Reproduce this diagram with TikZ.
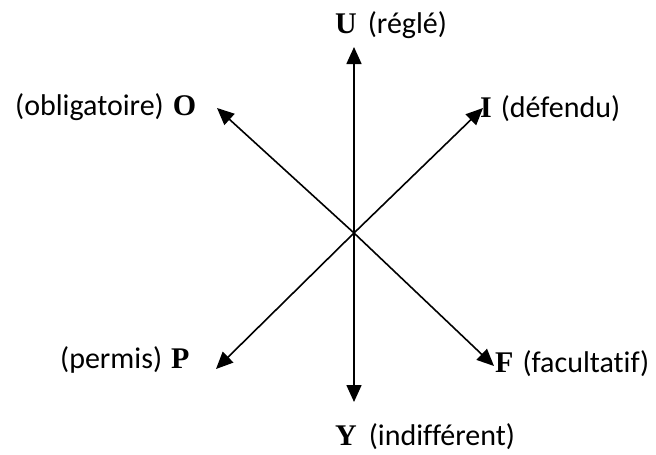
\documentclass[tikz,border=0pt]{standalone}
\usepackage{fontspec}
\setmainfont{Carlito}[Ligatures=CommonOff]
\newfontfamily\lettre{Liberation Serif}
\usetikzlibrary{arrows.meta}
\begin{document}
\begin{tikzpicture}[x=1pt,y=-1pt,
  axe/.style={line width=1.6pt,-{Triangle[length=17pt,width=15pt]}},
  lab/.style={anchor=base west,inner sep=0pt,font=\fontsize{30}{34}\selectfont}]
\useasboundingbox (0,0) rectangle (656,455);
\coordinate (c) at (354,233);
\coordinate (tU) at (354,47);
\coordinate (tY) at (354,402);
\coordinate (tO) at (217,108);
\coordinate (tI) at (483,108);
\coordinate (tP) at (216,369);
\coordinate (tF) at (494,366);
\draw[axe] (c) -- (tU);
\draw[axe] (c) -- (tY);
\draw[axe] (c) -- (tO);
\draw[axe] (c) -- (tI);
\draw[axe] (c) -- (tP);
\draw[axe] (c) -- (tF);
\node[lab] (lU) at (335,33) {{\lettre\bfseries U}\hspace{11pt}(réglé)};
\node[lab] (lO) at (15,115) {(obligatoire)\hspace{9pt}{\lettre\bfseries O}};
\node[lab] (lI) at (480,117) {{\lettre\bfseries I}\hspace{9pt}(défendu)};
\node[lab] (lP) at (60,368) {(permis)\hspace{9pt}{\lettre\bfseries P}};
\node[lab] (lF) at (495,372) {{\lettre\bfseries F}\hspace{9pt}(facultatif)};
\node[lab] (lY) at (335,445) {{\lettre\bfseries Y}\hspace{12pt}(indifférent)};
\end{tikzpicture}
\end{document}
